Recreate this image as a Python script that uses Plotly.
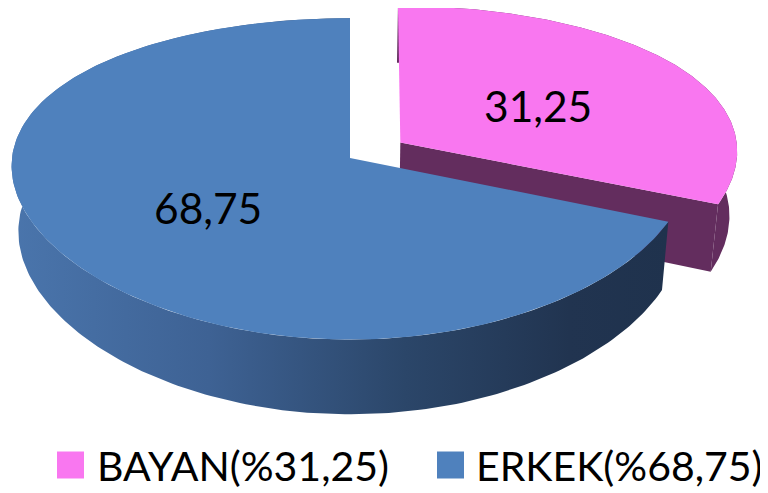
import numpy as np
import plotly.graph_objects as go

# ---- data ----
categories = ["BAYAN", "ERKEK"]
values = [31.25, 68.75]
top_colors = ["#F977F0", "#4F81BD"]
side_colors = ["#632D5E", "#22344F"]
pulls = [0.18, 0.0]

# ---- layout / projection constants (pixels of the page) ----
W, H = 768, 493
OFF = 8            # default page body margin of the html page
CX, CY = 350, 158
A, B = 338, 158
KX, KY = 0.05, 0.13
D = 65
SHRINK = 0.02
FONT = "Lato"
FS = 42.5
FS_LEG = 41


def proj(X, Y, z=0.0):
    X = np.asarray(X, dtype=float)
    Y = np.asarray(Y, dtype=float)
    sx = 1.0 / (1.0 + KX * Y)
    sy = 1.0 / (1.0 + KY * Y)
    x = CX + A * X * sx * (1 - SHRINK * z)
    y = CY - B * Y * sy + D * sy * z
    return x, y


def fmt(v):
    return f"{v:.2f}".replace(".", ",")


total = sum(values)
slices = []
start = 0.0
for cat, v, p in zip(categories, values, pulls):
    ext = 360.0 * v / total
    t0, t1 = start, start + ext
    tm = np.radians((t0 + t1) / 2)
    slices.append(dict(cat=cat, v=v, t0=t0, t1=t1,
                       px=p * np.sin(tm), py=p * np.cos(tm), tm=tm))
    start = t1

fig = go.Figure()


def rim(sl, t_deg, z):
    t = np.radians(t_deg)
    return proj(sl["px"] + np.sin(t), sl["py"] + np.cos(t), z)


def add_poly(xs, ys, color=None, gradient=None):
    kw = dict(x=list(xs) + [xs[0]], y=list(ys) + [ys[0]], mode="lines",
              fill="toself", line=dict(width=0, color="rgba(0,0,0,0)"),
              fillcolor=color, hoverinfo="skip", showlegend=False)
    if gradient is not None:
        kw["fillgradient"] = gradient
    fig.add_trace(go.Scatter(**kw))


def draw_slice(i, gradient=None):
    sl = slices[i]
    ts = np.linspace(sl["t0"], sl["t1"], 240)
    # outer wall
    xt, yt = rim(sl, ts, 0)
    xb, yb = rim(sl, ts[::-1], 1)
    add_poly(np.concatenate([xt, xb]), np.concatenate([yt, yb]),
             side_colors[i], gradient)
    cx0, cy0 = proj(sl["px"], sl["py"], 0)
    cx1, cy1 = proj(sl["px"], sl["py"], 1)
    # radial cut face at the end angle (visible for the exploded slice)
    if i == 0:
        ex0, ey0 = rim(sl, sl["t1"], 0)
        ex1, ey1 = rim(sl, sl["t1"], 1)
        add_poly([float(cx0), float(ex0), float(ex1), float(cx1)],
                 [float(cy0), float(ey0), float(ey1), float(cy1)], side_colors[i])
    # top face
    add_poly(np.concatenate([[cx0], xt]), np.concatenate([[cy0], yt]), top_colors[i])


draw_slice(0)
draw_slice(1, gradient=dict(type="horizontal",
                            colorscale=[[0.0, "#4A75AC"], [0.3, "#3E6294"],
                                        [0.6, "#2B4669"], [0.85, "#213450"],
                                        [1.0, "#1F324D"]]))

# ---- data labels ----
for sl in slices:
    x, y = proj(sl["px"] + 0.5 * np.sin(sl["tm"]), sl["py"] + 0.5 * np.cos(sl["tm"]), 0)
    fig.add_annotation(x=float(x), y=float(y), xref="x", yref="y",
                       xanchor="center", yanchor="middle", yshift=-4,
                       showarrow=False, text=fmt(sl["v"]),
                       font=dict(family=FONT, size=FS, color="#000000"))

# ---- legend ----
leg_marker_x = [70.5, 450.5]
leg_text_x = [95, 474]
leg_y = 465
fig.add_trace(go.Scatter(x=leg_marker_x, y=[leg_y] * 2, mode="markers",
                         marker=dict(symbol="square", size=27, color=top_colors,
                                     line=dict(width=0)),
                         hoverinfo="skip", showlegend=False))
for cat, v, x in zip(categories, values, leg_text_x):
    fig.add_annotation(x=x, y=leg_y, xref="x", yref="y", xanchor="left",
                       yanchor="middle", showarrow=False,
                       text=f"{cat}(%{fmt(v)})",
                       font=dict(family=FONT, size=FS_LEG, color="#000000"))

fig.update_layout(width=W - OFF, height=H - OFF, margin=dict(l=0, r=0, t=0, b=0),
                  paper_bgcolor="white", plot_bgcolor="white",
                  xaxis=dict(range=[OFF, W], visible=False, fixedrange=True),
                  yaxis=dict(range=[H, OFF], visible=False, fixedrange=True),
                  showlegend=False)

fig.write_html("out.html")
